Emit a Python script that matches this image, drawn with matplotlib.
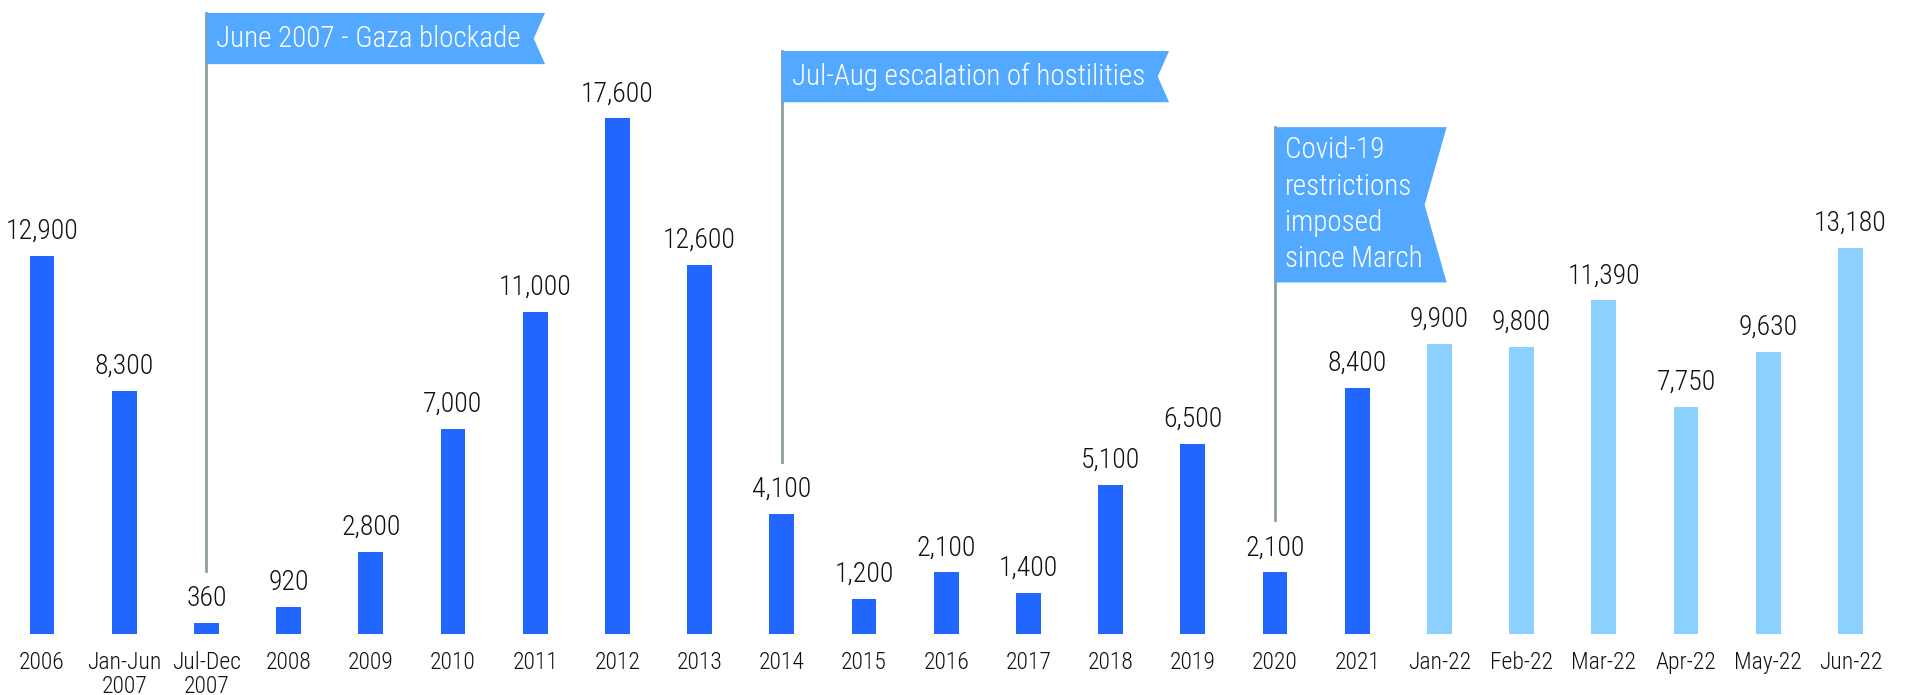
import matplotlib
matplotlib.use("Agg")
import matplotlib.pyplot as plt
from matplotlib import font_manager
from matplotlib.patches import Polygon

# ---------------------------------------------
# data
# ---------------------------------------------
periods = ["2006", "Jan-Jun\n2007", "Jul-Dec\n2007", "2008", "2009", "2010", "2011",
           "2012", "2013", "2014", "2015", "2016", "2017", "2018", "2019", "2020",
           "2021", "Jan-22", "Feb-22", "Mar-22", "Apr-22", "May-22", "Jun-22"]
exits = [12900, 8300, 360, 920, 2800, 7000, 11000, 17600, 12600, 4100, 1200,
         2100, 1400, 5100, 6500, 2100, 8400, 9900, 9800, 11390, 7750, 9630, 13180]
is_monthly = [p.endswith("-22") for p in periods]

# events: text, bar index, flag top, flag bottom (value units)
events = [
    ("June 2007 - Gaza blockade", 2, 21200, 19450),
    ("Jul-Aug escalation of hostilities", 9, 19900, 18150),
    ("Covid-19\nrestrictions\nimposed\nsince March", 15, 17300, 12000),
]

# ---------------------------------------------
# style
# ---------------------------------------------
names = {f.name for f in font_manager.fontManager.ttflist}
font = "Roboto"
for cand in ["Roboto Condensed", "Liberation Sans Narrow", "Roboto"]:
    if cand in names:
        font = cand
        break
condensed = font != "Roboto"
plt.rcParams["font.family"] = [font, "DejaVu Sans"]
plt.rcParams["font.weight"] = "light"

fs_tick = 17 if condensed else 15
fs_val = 20 if condensed else 18
fs_flag = 21 if condensed else 18.5

dark = "#2166ff"
light = "#8cd0ff"
flag_col = "#52a9ff"
pole_col = "#8e9e9e"
txt_col = "#111111"

W, H = 1923, 695
fig = plt.figure(figsize=(W / 100, H / 100), dpi=100)
base_px = 61
ax = fig.add_axes([0, base_px / H, 1, (H - base_px) / H])

step = 82.2   # px between bars
first = 42    # px of first bar centre
ytop = 21640
ax.set_xlim(-first / step, (W - first) / step)
ax.set_ylim(0, ytop)
px_x = 1 / step
px_y = ytop / (H - base_px)

x = list(range(len(periods)))
colors = [light if m else dark for m in is_monthly]
ax.bar(x, exits, width=0.30, color=colors, zorder=2)

for xi, v in zip(x, exits):
    ax.annotate(f"{v:,}", (xi, v), xytext=(0, 8), textcoords="offset points",
                ha="center", va="bottom", fontsize=fs_val, color=txt_col)

ax.set_xticks(x, periods)
ax.tick_params(axis="x", length=0, pad=12, labelsize=fs_tick, labelcolor=txt_col)
for lbl in ax.get_xticklabels():
    lbl.set_linespacing(1.1)
ax.set_yticks([])
for s in ax.spines.values():
    s.set_visible(False)

# ---------------------------------------------
# event flags
# ---------------------------------------------
fig.canvas.draw()
inv = ax.transData.inverted()
for label, idx, top, bottom in events:
    mid = (top + bottom) / 2
    ax.plot([idx, idx], [exits[idx] + 52 * px_y, top], color=pole_col, lw=2, zorder=3)
    t = ax.text(idx + 10 * px_x, mid, label, ha="left", va="center", color="white",
                fontsize=fs_flag, linespacing=1.38, zorder=5)
    bb = t.get_window_extent(renderer=fig.canvas.get_renderer())
    right = inv.transform((bb.x1, 0))[0] + 24 * px_x
    h_px = (top - bottom) / px_y
    notch = min(0.22 * h_px, 22) * px_x
    ax.add_patch(Polygon([(idx, bottom), (idx, top), (right, top),
                          (right - notch, mid), (right, bottom)],
                         closed=True, color=flag_col, lw=0, zorder=4))

fig.savefig("out.png", dpi=100)
